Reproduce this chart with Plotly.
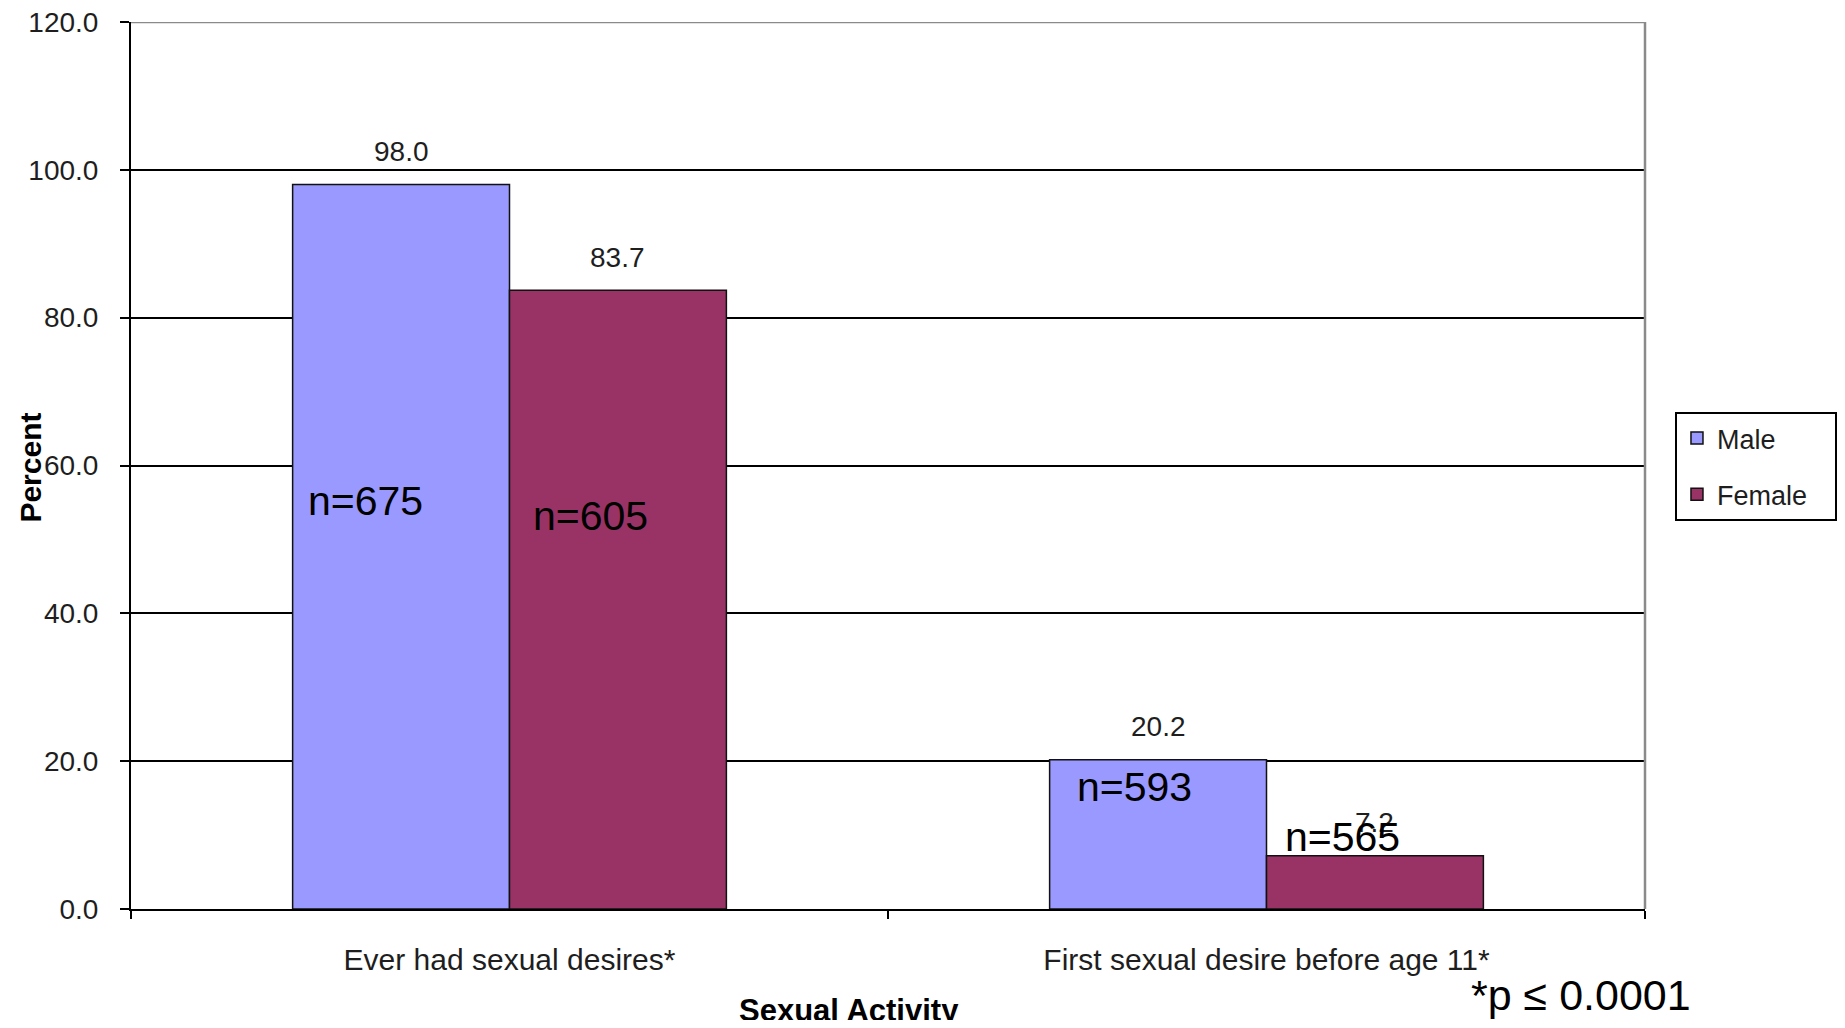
import plotly.graph_objects as go

# ---- data ----
categories = ["Ever had sexual desires*", "First sexual desire before age 11*"]
male_pct = [98.0, 20.2]
female_pct = [83.7, 7.2]
male_n = [675, 593]
female_n = [605, 565]
y_ticks = [0, 20, 40, 60, 80, 100, 120]

# ---- layout constants ----
# the page body has an 8px default margin, so the figure is drawn 16px smaller
W, H = 1829, 1012
L, T = 123, 14
PLOT_W, PLOT_H = 1514, 887
R = W - L - PLOT_W
B = H - T - PLOT_H
BARGAP = 0.427
FONT = "Arial, Liberation Sans, sans-serif"
MALE_COLOR = "#9999FF"
FEMALE_COLOR = "#993366"
TXT = "#1e1e1e"
PAD = "\u00a0" * 3  # right padding inside the legend box

cat_w = PLOT_W / len(categories)
bar_w = cat_w * (1 - BARGAP) / 2
shift = bar_w / 2

fig = go.Figure()
fig.add_trace(go.Bar(name="Male" + PAD, x=categories, y=male_pct,
                     marker=dict(color=MALE_COLOR, line=dict(color="#111", width=1.5)),
                     legendgroup="m"))
fig.add_trace(go.Bar(name="Female" + PAD, x=categories, y=female_pct,
                     marker=dict(color=FEMALE_COLOR, line=dict(color="#111", width=1.5)),
                     legendgroup="f"))

annotations = []
# value labels above bars
for vals, sgn in ((male_pct, -1), (female_pct, 1)):
    for c, v in zip(categories, vals):
        annotations.append(dict(x=c, y=v, xref="x", yref="y", text=f"{v:.1f}",
                                showarrow=False, xshift=sgn * shift, yshift=33,
                                yanchor="middle", font=dict(family=FONT, size=28, color=TXT)))

# n= text boxes (free-floating in the original)
n_pos_male = [(0.1552, 0.460), (0.6625, 0.1375)]
n_pos_female = [(0.3032, 0.443), (0.7999, 0.0812)]
for ns, pos in ((male_n, n_pos_male), (female_n, n_pos_female)):
    for n, (px, py) in zip(ns, pos):
        annotations.append(dict(x=px, y=py, xref="paper", yref="paper", text=f"n={n}",
                                showarrow=False, xanchor="center", yanchor="middle",
                                font=dict(family=FONT, size=41, color="black")))

# axis titles and footnote
annotations.append(dict(x=-0.0665, y=0.498, xref="paper", yref="paper", text="<b>Percent</b>",
                        textangle=-90, showarrow=False, xanchor="center", yanchor="middle",
                        font=dict(family=FONT, size=30, color="black")))
annotations.append(dict(x=0.4742, y=-0.114, xref="paper", yref="paper", text="<b>Sexual Activity</b>",
                        showarrow=False, xanchor="center", yanchor="middle",
                        font=dict(family=FONT, size=31, color="black")))
annotations.append(dict(x=0.9577, y=-0.097, xref="paper", yref="paper", text="*p ≤ 0.0001",
                        showarrow=False, xanchor="center", yanchor="middle",
                        font=dict(family=FONT, size=43, color="black")))

fig.update_layout(
    width=W, height=H,
    margin=dict(l=L, r=R, t=T, b=B, autoexpand=False),
    paper_bgcolor="white", plot_bgcolor="white",
    barmode="group", bargap=BARGAP, bargroupgap=0,
    font=dict(family=FONT, color=TXT),
    showlegend=True,
    legend=dict(x=1.0198, y=0.5603, xanchor="left", yanchor="top",
                bordercolor="black", borderwidth=2, bgcolor="white",
                font=dict(family=FONT, size=27, color=TXT),
                tracegroupgap=18, traceorder="grouped"),
    annotations=annotations,
    xaxis=dict(type="category", showline=True, linecolor="black", linewidth=2,
               ticks="outside", tickson="boundaries", ticklen=8, tickcolor="black", tickwidth=2,
               tickfont=dict(family=FONT, size=30, color=TXT), ticklabelstandoff=23,
               showgrid=False, zeroline=False),
    yaxis=dict(range=[0, 120], tickvals=y_ticks, tickformat=".1f",
               showline=True, linecolor="black", linewidth=2,
               ticks="outside", ticklen=9, tickcolor="black", tickwidth=2,
               tickfont=dict(family=FONT, size=28, color=TXT), ticklabelstandoff=16,
               ticklabeloverflow="allow",
               showgrid=True, gridcolor="black", gridwidth=2, zeroline=False),
    shapes=[
        dict(type="line", xref="paper", yref="y", x0=0, x1=1, y0=120, y1=120,
             line=dict(color="#8a8a8a", width=2.5), layer="above"),
        dict(type="line", xref="paper", yref="y", x0=1, x1=1, y0=0, y1=120,
             line=dict(color="#8a8a8a", width=2.5), layer="above"),
    ],
)

fig.write_html("out.html")
